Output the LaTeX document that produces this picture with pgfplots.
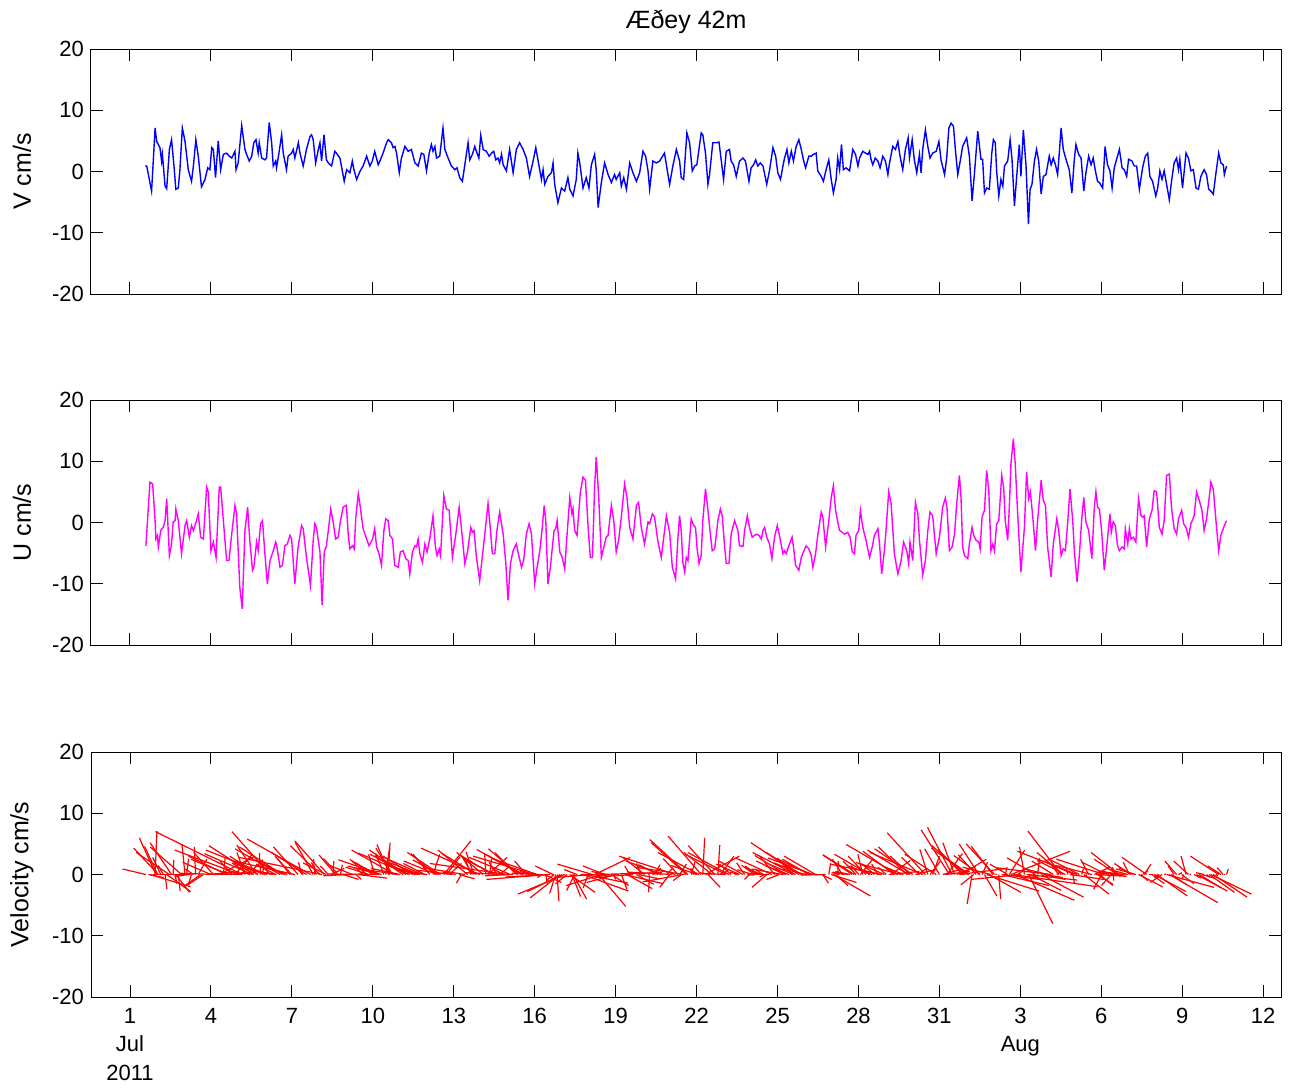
\documentclass[border=0pt]{standalone}
\usepackage{fontspec}
\setmainfont{Liberation Sans}
\usepackage{pgfplots}
\usepackage{pgfplotstable}
\pgfplotsset{compat=1.18}
\definecolor{vblue}{rgb}{0,0,1}
\definecolor{umag}{rgb}{1,0,1}
\definecolor{sred}{rgb}{1,0,0}

\pgfplotstableread{
t v
1.56 0.9
1.62 0.9
1.80 -3.2
1.93 7.1
1.99 4.9
2.11 3.9
2.17 1.7
2.20 2.8
2.30 -2.4
2.36 -2.8
2.46 3.6
2.54 5.2
2.63 0.9
2.70 -2.9
2.79 -2.7
2.85 0.3
2.94 7.1
3.04 4.9
3.16 0.3
3.28 -1.6
3.35 0.9
3.44 5.2
3.53 2.5
3.65 -2.5
3.78 -1.3
3.88 0.6
3.96 0.3
4.03 3.9
4.09 3.6
4.17 -1.0
4.27 5.0
4.36 0.3
4.46 2.8
4.58 3.0
4.68 2.5
4.77 2.2
4.89 3.3
4.93 0.3
5.01 1.4
5.14 7.5
5.26 3.6
5.32 2.8
5.42 1.7
5.51 2.5
5.59 4.7
5.67 5.2
5.75 3.0
5.79 4.7
5.88 2.2
6.00 1.9
6.06 2.2
6.16 8.0
6.25 4.7
6.31 0.9
6.40 1.7
6.43 0.6
6.52 3.0
6.62 6.0
6.68 3.0
6.80 0.3
6.86 2.5
6.99 3.0
7.05 3.6
7.11 2.2
7.24 4.7
7.30 3.0
7.42 0.9
7.54 3.6
7.67 5.7
7.73 6.0
7.79 5.2
7.88 1.4
7.98 3.6
8.04 4.7
8.10 1.7
8.19 6.0
8.28 1.9
8.35 1.4
8.47 0.9
8.59 3.3
8.65 3.0
8.78 2.2
8.94 -1.6
9.03 0.3
9.15 -0.2
9.24 1.7
9.30 0.3
9.40 -1.3
9.52 0.0
9.64 0.9
9.77 2.5
9.89 0.9
9.98 1.7
10.07 3.3
10.20 1.1
10.28 1.9
10.38 3.0
10.51 4.7
10.57 5.2
10.69 4.7
10.75 3.9
10.82 4.1
10.88 3.0
10.98 -0.2
11.06 2.2
11.19 4.1
11.31 3.3
11.43 3.6
11.56 1.4
11.68 0.9
11.80 3.0
11.89 2.8
11.99 0.1
12.09 3.0
12.17 4.4
12.23 3.3
12.30 4.1
12.36 2.2
12.48 2.5
12.60 7.1
12.67 3.6
12.79 2.2
12.91 0.9
13.04 0.3
13.12 0.6
13.22 -1.0
13.32 -1.6
13.41 1.1
13.53 4.7
13.59 1.9
13.69 2.8
13.78 4.1
13.86 3.0
13.93 2.2
14.00 5.9
14.09 3.6
14.21 3.3
14.31 2.5
14.40 3.0
14.48 3.3
14.56 1.9
14.64 2.2
14.70 1.4
14.77 2.8
14.83 1.1
14.95 0.1
15.07 3.6
15.20 -0.2
15.32 3.6
15.44 4.7
15.57 3.6
15.69 2.2
15.81 -0.8
15.94 1.7
16.04 3.9
16.12 1.9
16.25 -1.3
16.31 0.3
16.37 -2.1
16.49 -0.8
16.62 -0.2
16.68 1.4
16.74 -2.1
16.86 -5.1
16.99 -2.7
17.11 -3.2
17.23 -1.0
17.30 -2.9
17.42 -4.0
17.54 -1.3
17.60 3.0
17.67 1.4
17.79 -2.7
17.91 -1.0
18.01 -2.7
18.10 1.1
18.22 2.8
18.28 0.3
18.35 -5.9
18.47 -1.8
18.59 1.4
18.72 -0.5
18.84 -1.8
18.96 -0.5
19.02 -1.3
19.15 -0.2
19.21 -2.4
19.30 -1.0
19.40 -2.9
19.52 1.4
19.64 -0.2
19.77 -1.6
19.89 -0.2
20.01 3.3
20.11 2.5
20.20 0.1
20.26 -2.9
20.38 1.7
20.51 1.4
20.63 1.7
20.81 3.0
20.88 1.1
21.00 -2.1
21.12 0.9
21.25 3.6
21.37 1.7
21.43 -1.0
21.52 -1.3
21.64 6.3
21.74 4.7
21.84 0.1
21.93 0.9
22.01 1.1
22.17 6.3
22.23 6.0
22.33 3.0
22.42 -2.1
22.48 -0.5
22.60 4.7
22.73 4.7
22.83 4.8
22.88 3.0
23.00 -1.3
23.10 3.3
23.22 3.6
23.28 1.7
23.37 1.1
23.47 -0.8
23.59 1.7
23.72 2.2
23.81 1.7
23.94 -1.6
24.02 0.6
24.11 1.1
24.19 1.9
24.27 0.9
24.36 1.4
24.46 0.9
24.60 -2.1
24.70 0.1
24.83 3.9
24.93 2.5
25.01 -0.2
25.11 -1.3
25.20 0.9
25.26 2.2
25.35 3.6
25.42 1.4
25.51 3.3
25.59 1.7
25.69 4.1
25.79 5.2
25.88 3.6
25.96 1.9
26.04 0.6
26.16 2.5
26.25 2.5
26.33 2.8
26.43 3.0
26.49 0.1
26.62 -0.8
26.70 -1.6
26.80 0.3
26.90 1.9
26.99 -1.3
27.07 -3.5
27.17 -1.3
27.23 2.2
27.30 0.3
27.37 4.4
27.44 0.3
27.54 0.6
27.67 0.1
27.79 3.6
27.89 2.8
27.98 0.9
28.04 2.2
28.16 3.3
28.26 3.0
28.35 2.8
28.41 3.3
28.47 1.9
28.53 1.1
28.62 2.2
28.72 1.7
28.80 0.6
28.90 2.5
29.00 1.7
29.09 -0.5
29.15 1.4
29.27 4.1
29.37 3.6
29.46 4.9
29.54 2.5
29.64 0.3
29.74 3.6
29.84 5.5
29.89 2.2
29.99 5.2
30.07 1.9
30.16 -0.2
30.26 2.8
30.32 -0.2
30.38 3.6
30.48 6.8
30.57 4.1
30.65 2.2
30.75 3.0
30.88 3.3
30.98 4.9
31.06 1.9
31.19 -0.5
31.27 2.2
31.35 7.1
31.43 7.9
31.52 7.4
31.59 3.6
31.68 -0.5
31.77 1.7
31.86 4.1
32.01 5.5
32.11 2.5
32.21 -4.8
32.30 -0.2
32.42 6.6
32.54 2.0
32.60 2.0
32.67 -3.5
32.75 -2.7
32.85 -2.9
32.94 3.0
33.00 5.2
33.07 4.7
33.12 0.1
33.20 -4.0
33.28 -1.3
33.35 -2.4
33.41 0.9
33.53 1.7
33.62 5.2
33.69 2.0
33.78 -5.6
33.86 -1.0
33.96 4.4
34.02 -0.8
34.11 6.8
34.21 0.9
34.30 -8.6
34.36 -2.9
34.43 -2.1
34.52 1.7
34.60 3.6
34.68 1.7
34.77 -3.7
34.85 -0.8
34.95 -0.5
35.07 2.5
35.14 1.1
35.22 2.2
35.30 1.1
35.38 -0.5
35.42 1.7
35.51 7.1
35.59 3.6
35.69 2.0
35.81 0.3
35.91 -3.5
36.00 2.0
36.06 4.4
36.16 2.8
36.25 2.2
36.35 -3.2
36.43 -0.2
36.53 2.5
36.62 1.1
36.70 2.2
36.78 0.1
36.86 -1.6
36.93 -1.8
37.05 -2.7
37.14 4.1
37.23 1.1
37.32 0.1
37.40 -2.7
37.48 0.6
37.58 2.2
37.67 3.6
37.77 0.6
37.85 0.3
37.94 -0.8
38.01 2.0
38.14 1.7
38.22 0.9
38.31 0.9
38.41 -2.9
38.53 0.6
38.63 2.5
38.72 3.0
38.80 -0.8
38.90 -1.6
39.02 -4.0
39.09 -2.7
39.17 0.1
39.25 -1.3
39.33 0.1
39.42 -2.1
39.52 -4.6
39.62 -1.0
39.70 1.4
39.79 2.2
39.86 0.3
39.91 2.0
40.01 -2.7
40.14 3.0
40.23 2.2
40.32 0.1
40.41 0.3
40.51 -2.7
40.60 -2.9
40.69 -0.8
40.81 0.3
40.90 -0.5
40.98 -2.9
41.06 -3.2
41.15 -3.7
41.25 -0.2
41.35 3.0
41.43 1.4
41.52 1.1
41.56 -0.5
41.64 0.9
}\vtab

\pgfplotstableread{
t u v
1.59 -3.8 0.9
1.68 2.5 -0.5
1.74 6.6 -2.0
1.84 6.3 0.0
1.93 0.3 7.1
1.96 -2.7 6.0
2.02 -2.1 4.6
2.05 -4.0 4.3
2.14 -1.3 2.8
2.23 -0.8 1.5
2.30 0.3 -2.4
2.36 3.9 -2.8
2.46 -5.4 3.6
2.54 -3.5 5.2
2.60 0.1 2.4
2.67 0.3 -1.5
2.70 2.2 -2.9
2.79 0.3 -2.7
2.91 -5.1 4.5
3.04 -0.5 4.9
3.10 0.3 2.6
3.20 -2.4 -0.3
3.28 -0.5 -1.6
3.35 -1.3 0.9
3.43 -0.2 4.5
3.53 1.4 2.5
3.62 -2.4 -1.7
3.72 -2.7 -1.8
3.84 5.8 0.0
3.90 5.0 0.5
4.00 -4.6 2.0
4.09 -3.2 3.6
4.19 -5.7 0.2
4.31 5.8 3.0
4.36 5.8 0.3
4.46 0.3 2.8
4.58 -6.2 3.0
4.67 -6.2 2.5
4.77 -1.9 2.2
4.89 2.8 3.3
4.95 1.4 0.5
5.07 -10.6 4.0
5.16 -14.1 7.0
5.26 -1.3 3.6
5.36 2.5 2.4
5.44 -2.9 1.9
5.54 -7.8 3.4
5.59 -7.3 4.7
5.69 -3.2 4.8
5.75 -4.6 3.0
5.84 -0.2 3.5
5.91 0.3 2.1
6.00 -5.1 1.9
6.09 -10.0 4.0
6.19 -6.2 7.0
6.31 -4.6 0.9
6.40 -3.2 1.7
6.43 -3.5 0.6
6.56 -7.3 4.2
6.65 -7.0 4.5
6.74 -3.8 1.8
6.83 -3.5 1.3
6.93 -2.1 2.7
6.99 -2.7 3.0
7.11 -10.0 2.2
7.23 -4.0 4.5
7.36 -0.5 2.0
7.42 -1.0 0.9
7.54 -5.7 3.6
7.69 -10.3 5.8
7.79 -2.9 5.2
7.85 -0.2 2.5
7.91 -0.8 2.0
8.04 -4.8 4.7
8.12 -13.5 2.8
8.20 -4.8 5.5
8.28 -3.8 1.9
8.35 -1.3 1.4
8.44 2.2 1.0
8.53 0.1 2.2
8.62 -2.7 3.2
8.72 -2.4 2.6
8.80 0.3 1.6
8.90 2.5 -0.8
9.02 2.8 0.1
9.09 -2.1 0.0
9.15 -4.3 -0.2
9.25 -3.8 1.5
9.31 -4.3 0.1
9.37 0.9 -0.8
9.46 4.7 -0.6
9.52 3.0 0.0
9.64 -1.0 0.9
9.77 -2.7 2.5
9.86 -3.8 1.2
9.99 -2.7 1.9
10.07 -1.0 3.3
10.14 -4.0 2.2
10.23 -5.1 1.4
10.32 -7.0 2.4
10.41 -1.3 3.4
10.48 0.6 4.3
10.57 0.3 5.2
10.63 -2.1 4.9
10.73 -2.7 4.3
10.81 -7.0 4.0
10.94 -7.3 1.1
11.02 -4.8 1.0
11.12 -4.6 3.1
11.22 -5.9 4.0
11.31 -6.2 3.3
11.37 -8.4 3.5
11.47 -4.8 3.0
11.56 -3.8 1.4
11.62 -4.0 1.2
11.68 -2.7 0.9
11.74 -5.1 2.0
11.84 -6.5 2.9
11.93 -3.5 1.8
12.01 -4.8 0.7
12.11 -2.7 3.3
12.23 1.1 3.3
12.32 -4.0 3.4
12.38 -5.4 2.2
12.46 -4.3 2.4
12.51 -5.4 3.6
12.63 4.4 5.5
12.73 2.2 2.9
12.83 2.0 1.8
12.95 -5.7 0.7
13.07 -2.1 0.4
13.20 2.5 -0.7
13.28 -0.8 -1.4
13.41 -6.7 1.1
13.51 -4.8 4.0
13.63 -0.8 2.3
13.69 -1.6 2.8
13.75 -1.3 3.7
13.84 -5.7 3.5
13.96 -9.5 4.3
14.09 -4.3 3.6
14.19 -0.2 3.4
14.27 3.1 2.8
14.33 0.3 2.6
14.43 -5.1 3.1
14.52 -5.1 2.6
14.60 -1.3 2.0
14.70 1.7 1.4
14.83 -1.9 1.1
14.93 -6.7 0.3
15.01 -12.7 1.8
15.10 -6.7 2.8
15.20 -4.6 -0.2
15.32 -3.5 3.6
15.38 -4.8 4.2
15.51 -7.3 4.1
15.59 -6.2 3.3
15.69 -1.9 2.2
15.79 -0.2 -0.3
15.88 -1.9 0.5
16.00 -10.0 3.0
16.09 -7.3 2.6
16.19 -4.6 0.2
16.28 -0.8 -0.5
16.35 2.8 -1.3
16.41 0.3 -1.6
16.49 -10.0 -0.8
16.58 -7.3 -0.4
16.68 -2.9 1.4
16.72 -1.3 -1.0
16.78 -1.0 -3.1
16.83 0.3 -4.4
16.93 -4.8 -3.8
17.02 -5.7 -2.8
17.11 -7.6 -3.2
17.20 -1.9 -1.5
17.30 4.1 -2.9
17.38 1.4 -3.6
17.42 2.2 -4.0
17.48 -1.3 -2.6
17.57 -2.1 0.8
17.69 4.9 -0.1
17.79 7.4 -2.7
17.88 6.9 -1.4
17.98 -0.8 -2.2
18.06 -5.7 -0.5
18.14 -5.7 1.7
18.22 5.8 2.8
18.28 10.7 0.3
18.37 4.4 -5.2
18.47 -5.7 -1.8
18.59 -3.5 1.4
18.65 -2.4 0.5
18.72 -2.1 -0.5
18.84 2.8 -1.8
18.93 0.3 -0.8
19.02 -4.8 -1.3
19.11 -2.9 -0.5
19.21 0.9 -2.4
19.33 6.3 -1.5
19.42 4.1 -2.3
19.52 -0.8 1.4
19.64 -2.7 -0.2
19.77 2.8 -1.6
19.85 3.3 -0.7
19.95 -0.8 1.8
20.07 -3.5 2.8
20.20 0.1 0.1
20.26 -0.2 -2.9
20.36 1.4 1.0
20.44 0.9 1.6
20.57 -3.2 1.6
20.69 -5.7 2.2
20.88 1.1 1.1
21.00 -1.6 -2.1
21.10 -7.3 0.4
21.22 -9.2 3.0
21.31 -2.4 2.6
21.37 1.1 1.7
21.43 -1.3 -1.0
21.49 -6.5 -1.2
21.56 -8.1 1.2
21.62 -5.7 5.2
21.68 -6.2 5.7
21.80 0.6 2.0
21.89 -0.5 0.5
21.96 -0.8 1.0
22.02 -4.3 1.5
22.09 -6.7 3.6
22.17 -5.4 6.3
22.23 0.3 6.0
22.33 5.5 3.0
22.42 2.0 -2.1
22.51 -1.9 0.3
22.58 -4.6 3.6
22.67 -4.3 4.7
22.79 0.3 4.8
22.88 2.2 3.0
22.95 1.1 0.9
23.04 -4.0 0.2
23.10 -6.7 3.3
23.20 -6.7 3.6
23.28 -1.9 1.7
23.41 0.3 0.3
23.53 -1.3 0.4
23.59 -3.8 1.7
23.72 -3.9 2.2
23.78 -1.3 1.9
23.88 1.1 -0.1
23.96 -0.8 -0.8
24.06 -2.4 0.8
24.15 -2.1 1.5
24.23 -1.9 1.4
24.31 -2.1 1.1
24.40 -2.7 1.2
24.46 -1.3 0.9
24.52 -0.8 -0.4
24.60 -2.4 -2.1
24.70 -3.5 0.1
24.79 -5.9 2.7
24.89 -2.4 3.0
24.99 -0.5 0.3
25.07 -2.1 -0.8
25.20 -5.1 0.9
25.26 -4.6 2.2
25.32 -5.1 3.1
25.42 -3.8 1.4
25.54 -2.4 2.7
25.59 -4.0 1.7
25.67 -7.0 3.6
25.79 -7.8 5.2
25.88 -5.7 3.6
25.96 -4.8 1.9
26.06 -3.8 0.9
26.16 -4.3 2.5
26.25 -5.4 2.5
26.31 -7.3 2.7
26.41 -5.1 3.0
26.49 -2.1 0.1
26.62 1.7 -0.8
26.68 0.9 -1.4
26.78 -4.0 -0.1
26.90 0.3 1.9
26.99 4.1 -1.3
27.07 6.0 -3.5
27.15 2.0 -1.8
27.23 0.1 2.2
27.30 -1.3 0.3
27.40 -1.6 2.5
27.48 -1.9 0.4
27.60 -1.6 0.4
27.69 -2.4 0.5
27.77 -4.8 3.2
27.85 -5.1 3.2
27.91 -2.1 2.2
28.01 -1.3 1.5
28.07 2.0 2.5
28.16 -0.8 3.3
28.28 -2.9 3.0
28.41 -5.7 3.3
28.51 -4.0 1.4
28.59 -2.1 1.8
28.72 -1.0 1.7
28.78 -3.5 0.9
28.86 -8.4 1.7
28.96 -4.6 2.0
29.02 -1.3 1.2
29.12 5.0 0.5
29.21 3.1 2.3
29.33 -5.1 3.8
29.46 -8.4 4.9
29.58 -6.2 1.6
29.67 -3.2 1.3
29.79 -4.6 4.5
29.86 -6.7 4.0
29.91 -3.2 3.0
30.01 -6.2 4.2
30.11 3.3 0.8
30.20 1.4 1.0
30.26 -2.9 2.8
30.38 -8.6 3.6
30.48 -6.2 6.8
30.57 -1.3 4.1
30.65 1.7 2.2
30.75 1.1 3.0
30.88 -5.1 3.3
31.00 -2.4 4.2
31.12 2.5 0.7
31.22 4.0 0.5
31.28 2.5 3.4
31.37 -4.6 7.3
31.47 -4.0 7.7
31.56 -1.9 5.2
31.64 3.1 1.3
31.74 7.7 1.0
31.80 4.1 2.5
31.86 -4.0 4.1
31.93 -5.4 4.8
32.05 -5.9 4.3
32.11 -3.5 2.5
32.21 -0.8 -4.8
32.27 -2.1 -1.7
32.36 -2.9 3.2
32.46 -3.2 5.0
32.51 -4.3 3.1
32.58 0.9 2.0
32.67 2.0 -3.5
32.75 8.5 -2.7
32.83 5.2 -2.9
32.91 -4.6 1.2
32.98 -3.5 4.6
33.04 -4.6 5.0
33.12 -0.2 0.1
33.20 0.3 -4.0
33.31 7.7 -1.8
33.38 5.8 -0.8
33.44 0.3 1.2
33.53 -2.9 1.7
33.59 2.5 4.0
33.65 9.6 3.8
33.74 13.7 -2.0
33.81 9.6 -4.2
33.90 1.4 1.0
34.02 -8.1 -0.8
34.15 -0.8 4.5
34.23 8.2 -0.9
34.31 3.9 -8.0
34.37 5.0 -2.6
34.46 0.9 -0.5
34.56 -4.6 2.7
34.64 0.3 2.7
34.77 6.9 -3.7
34.85 3.6 -0.8
34.93 2.8 -0.5
35.01 -4.0 1.0
35.14 -8.9 1.1
35.22 -3.5 2.2
35.35 0.6 0.5
35.42 -1.3 1.7
35.51 -5.4 7.1
35.59 -4.3 3.6
35.67 -4.6 2.3
35.75 -0.2 1.2
35.84 5.5 -0.8
35.94 0.3 -1.5
36.00 -4.6 2.0
36.10 -9.7 3.8
36.19 -5.1 2.6
36.27 0.3 1.0
36.35 4.1 -3.2
36.43 0.1 -0.2
36.53 -1.3 2.5
36.65 -5.9 1.5
36.74 2.5 1.2
36.80 5.0 -0.3
36.86 2.5 -1.6
36.93 2.2 -1.8
37.01 -1.3 -2.4
37.11 -7.8 2.5
37.20 -4.0 2.0
37.27 -0.8 0.6
37.32 1.4 0.1
37.37 -1.6 -1.8
37.44 0.1 -1.0
37.52 -0.5 1.2
37.60 -3.8 2.5
37.67 -4.6 3.6
37.77 -4.0 0.6
37.85 -4.3 0.3
37.89 -1.0 -0.2
37.98 -3.5 1.0
38.04 -1.0 2.0
38.10 -2.7 1.8
38.19 -2.4 1.1
38.28 -3.2 0.9
38.38 3.9 -2.0
38.47 1.1 -1.0
38.53 0.9 0.6
38.59 1.1 1.7
38.68 -4.0 2.8
38.78 0.6 0.0
38.88 2.0 -1.5
38.96 5.2 -2.8
39.05 5.0 -3.5
39.15 -0.8 -0.5
39.25 -1.9 -1.3
39.33 0.3 0.1
39.42 7.7 -2.1
39.52 7.9 -4.6
39.60 2.5 -1.7
39.70 -1.0 1.4
39.79 -1.9 2.2
39.86 0.6 0.3
39.98 2.0 -1.5
40.05 -0.2 -0.8
40.14 -0.8 3.0
40.23 -2.4 2.2
40.32 -0.2 0.1
40.44 1.1 -0.6
40.53 5.0 -2.7
40.63 3.6 -2.2
40.73 2.0 -0.6
40.81 -1.3 0.3
40.90 0.6 -0.5
41.00 4.1 -2.9
41.06 6.6 -3.2
41.15 5.5 -3.7
41.25 0.3 -0.2
41.35 -4.6 3.0
41.43 -2.1 1.4
41.52 -1.0 1.1
41.59 -0.2 0.0
41.64 0.3 0.9
}\uvtab

\pgfplotsset{
  panel/.style={
    scale only axis, width=595pt, height=122.5pt,
    anchor=north west,
    xmin=-0.4455, xmax=43.66, ymin=-20, ymax=20,
    xtick={1,4,...,43},
    ytick={-20,-10,0,10,20}, yticklabels={-20,-10,0,10,20},
    tick align=inside, major tick length=6pt,
    every tick/.style={black, line width=0.5pt},
    axis line style={line width=0.5pt},
    tick label style={font=\fontsize{11}{14.25}\selectfont},
    label style={font=\fontsize{12.5}{15}\selectfont},
    ylabel style={at={(axis description cs:-0.058,0.5)}, anchor=center},
    xticklabel style={align=center, yshift=-2pt},
  }
}

\begin{document}
\begin{tikzpicture}
\useasboundingbox (-45.5pt,24.5pt) rectangle (601.5pt,-519pt);

\begin{axis}[panel, at={(0pt,0pt)}, xticklabels={},
  ylabel={V cm/s},
  title={Æðey 42m},
  title style={at={(0.5,1)}, anchor=base, yshift=4.5pt, font=\fontsize{12.5}{15}\selectfont}]
\addplot[vblue, line width=0.7pt] table[x=t, y=v] {\vtab};
\end{axis}

\begin{axis}[panel, at={(0pt,-175.5pt)}, xticklabels={},
  ylabel={U cm/s}]
\addplot[umag, line width=0.7pt] table[x=t, y=u] {\uvtab};
\end{axis}

\begin{axis}[panel, at={(0pt,-351.5pt)},
  xticklabels={{1\\Jul\\2011},4,7,10,13,16,19,22,25,28,31,{3\\Aug},6,9,12},
  ylabel={Velocity cm/s}]
\addplot[sred, line width=0.6pt, quiver={u=\thisrow{u}*0.228, v=\thisrow{v}}]
  table[x=t, y expr=0] {\uvtab};
\end{axis}
\end{tikzpicture}
\end{document}
